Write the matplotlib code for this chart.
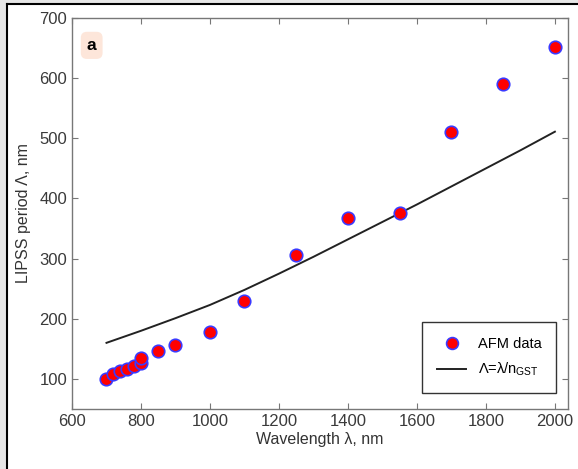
import matplotlib.pyplot as plt
from matplotlib.patches import Rectangle
from matplotlib.lines import Line2D

plt.rcParams['font.family'] = ['Liberation Sans', 'DejaVu Sans']
plt.rcParams['mathtext.fontset'] = 'custom'
plt.rcParams['mathtext.rm'] = 'Liberation Sans'
plt.rcParams['mathtext.it'] = 'Liberation Sans:italic'

# AFM measurements
wavelength = [700, 720, 740, 760, 780, 800, 800, 850, 900, 1000,
              1100, 1250, 1400, 1550, 1700, 1850, 2000]
period = [100, 108, 114, 117, 122, 126, 134, 147, 156, 178,
          230, 306, 367, 376, 510, 590, 652]

# Lambda = lambda / n_GST curve
model_wl = [700, 800, 900, 1000, 1100, 1200, 1300, 1400, 1500,
            1600, 1700, 1800, 1900, 2000]
model_period = [160, 180, 201, 223, 248, 275, 303, 332, 361,
                390, 420, 450, 480, 511]

fig = plt.figure(figsize=(5.78, 4.69), dpi=100)
ax = fig.add_axes([72 / 578, 1 - 409 / 469, 496 / 578, 391 / 469])

ax.plot(model_wl, model_period, color='#222222', lw=1.4, zorder=2)
ax.plot(wavelength, period, 'o', ms=9, mfc='red', mec='#3a3aff', mew=1.2,
        ls='none', zorder=3)

ax.set_xlim(600, 2038)
ax.set_ylim(50, 700)
ax.set_xticks(range(600, 2001, 200))
ax.set_yticks(range(100, 701, 100))
ax.tick_params(direction='in', top=True, right=True, length=4,
               color='#777777', labelcolor='#3a3a3a', labelsize=12)
for s in ax.spines.values():
    s.set_color('#777777')
    s.set_linewidth(1.0)

ax.set_xlabel('Wavelength λ, nm', fontsize=11.5, color='#333333', labelpad=2)
ax.set_ylabel('LIPSS period Λ, nm', fontsize=11.5, color='#333333', labelpad=6)

ax.text(0.03, 0.93, 'a', transform=ax.transAxes, fontsize=12.5,
        fontweight='bold', va='center', ha='left',
        bbox=dict(boxstyle='round,pad=0.35', fc='#fde6da', ec='none'))

handles = [Line2D([], [], marker='o', ms=8.5, mfc='red', mec='#3a3aff',
                  mew=1.2, ls='none'),
           Line2D([], [], color='#222222', lw=1.4)]
labels = ['AFM data', r'Λ=λ/n$_{\mathrm{GST}}$']
leg = ax.legend(handles, labels, loc='lower right', fontsize=10.5,
                fancybox=False, edgecolor='#333333', framealpha=1,
                borderpad=1.0, handlelength=2.0, labelspacing=0.7,
                borderaxespad=0, bbox_to_anchor=(0.976, 0.041))
leg.get_frame().set_linewidth(1.0)

# screenshot border on top and left
fig.patches.append(Rectangle((0, 0), 6 / 578, 1, transform=fig.transFigure,
                             fc='#e6e6e6', ec='none', zorder=0))
fig.patches.append(Rectangle((0, 1 - 3 / 469), 1, 3 / 469,
                             transform=fig.transFigure, fc='#e6e6e6',
                             ec='none', zorder=0))
fig.add_artist(Line2D([7 / 578, 7 / 578], [0, 1 - 4 / 469], color='black',
                      lw=1.5, transform=fig.transFigure))
fig.add_artist(Line2D([7 / 578, 1], [1 - 4 / 469, 1 - 4 / 469], color='black',
                      lw=1.5, transform=fig.transFigure))

fig.savefig('out.png', dpi=100)
